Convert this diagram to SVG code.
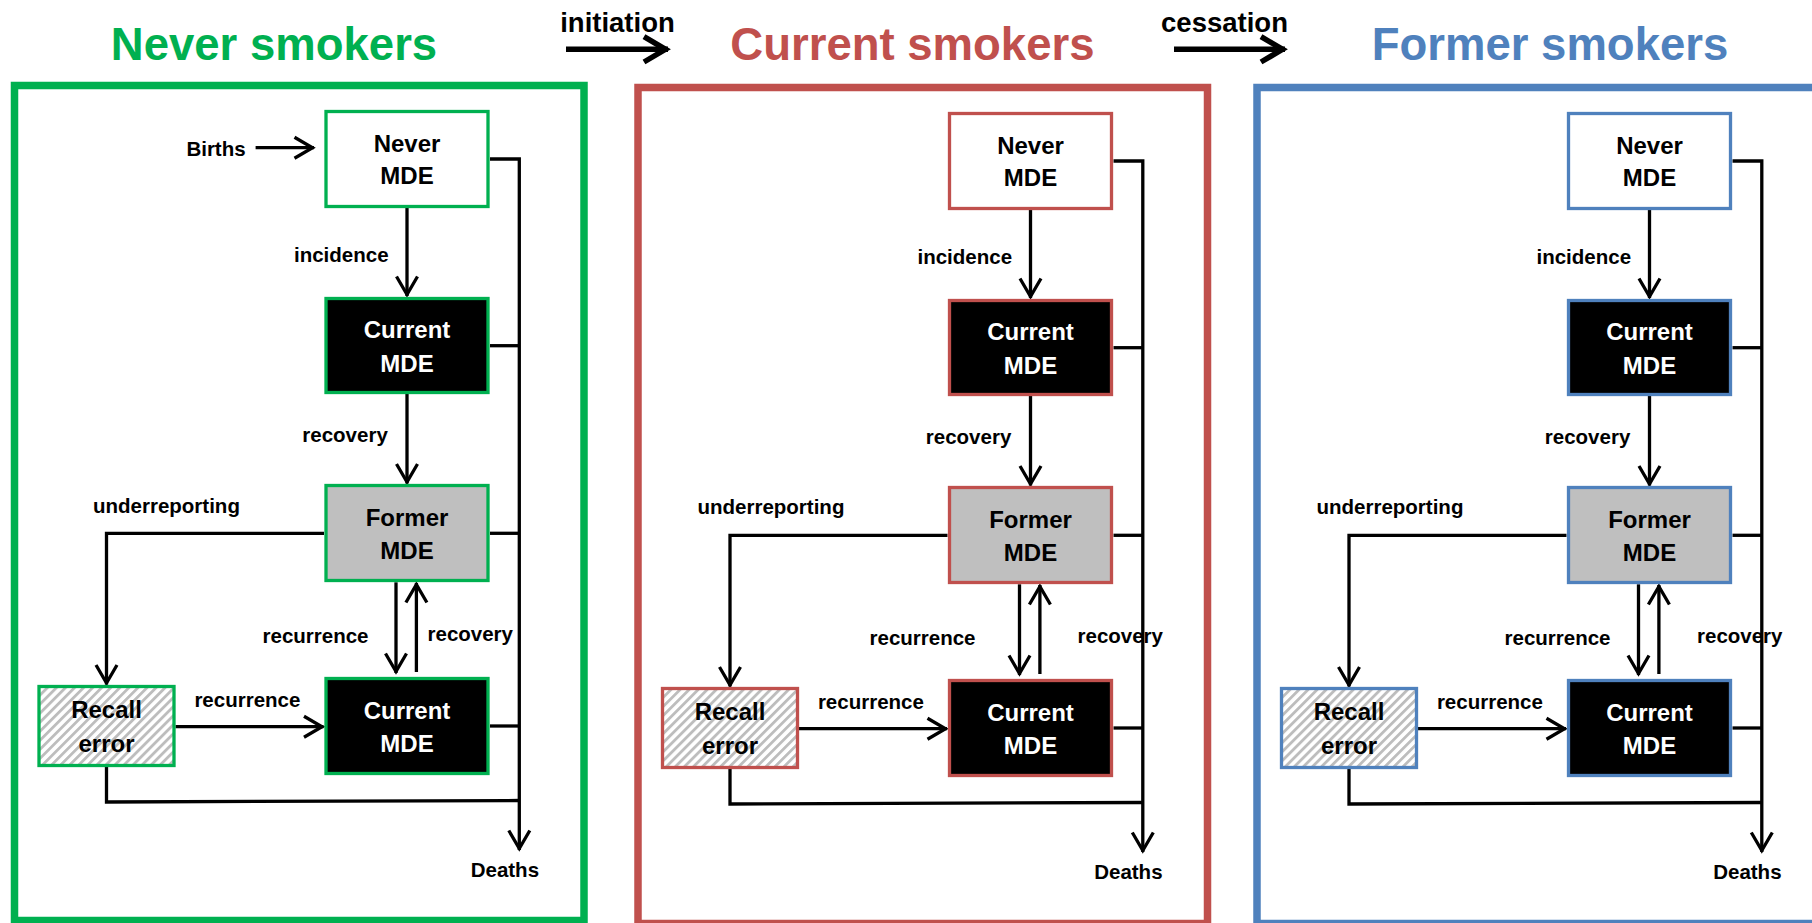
<svg xmlns="http://www.w3.org/2000/svg" width="1812" height="923" viewBox="0 0 1812 923">
  <defs>
    <style>
      text { font-family: "Liberation Sans", Arial, sans-serif; font-weight: bold; }
      .title { font-size: 45.5px; }
      .flow { font-size: 27.5px; fill: #000; }
      .lbl { font-size: 20.5px; fill: #000; }
      .nodetxt { font-size: 24px; text-anchor: middle; }
      .dark { fill: #fff; }
      .light { fill: #000; }
      .frame { fill: #fff; stroke: currentColor; stroke-width: 7.5; }
      .node rect { stroke: currentColor; stroke-width: 3.3; }
      .n-never rect { fill: #fff; }
      .n-current rect { fill: #000; }
      .n-former rect { fill: #bfbfbf; }
      .n-recall rect { fill: url(#hatch); }
      .connectors path { fill: none; stroke: #000; stroke-width: 3.3; }
      .arrow { marker-end: url(#head); }
      .big { fill: none; stroke: #000; stroke-width: 5.5; marker-end: url(#bighead); }
    </style>
    <pattern id="hatch" patternUnits="userSpaceOnUse" width="6.4" height="6.4" patternTransform="rotate(45)">
      <rect width="6.4" height="6.4" fill="#fff"/>
      <rect width="2.8" height="6.4" fill="#bdbdbd"/>
    </pattern>
    <marker id="head" markerUnits="userSpaceOnUse" markerWidth="30" markerHeight="30" viewBox="-25 -15 30 30" refX="0" refY="0" orient="auto" overflow="visible">
      <path d="M-19.5,-10.5 L-1.5,0 L-19.5,10.5" fill="none" stroke="#000" stroke-width="3.3"/>
    </marker>
    <marker id="bighead" markerUnits="userSpaceOnUse" markerWidth="40" markerHeight="40" viewBox="-30 -20 40 40" refX="0" refY="0" orient="auto" overflow="visible">
      <path d="M-24,-12.7 L-2.5,0 L-24,12.7" fill="none" stroke="#000" stroke-width="5.5"/>
    </marker>
  </defs>

  <!-- headings and transitions between smoking states -->
  <g id="headings">
    <text class="title" x="274" y="60" text-anchor="middle" fill="#00b050">Never smokers</text>
    <text class="title" x="912.4" y="60" text-anchor="middle" fill="#c0504d">Current smokers</text>
    <text class="title" x="1550" y="60" text-anchor="middle" fill="#4f81bd">Former smokers</text>
  </g>
  <g id="transitions">
    <text class="flow" x="617.5" y="31.5" text-anchor="middle">initiation</text>
    <path class="big" d="M566,49.3 H668"/>
    <text class="flow" x="1224.5" y="31.5" text-anchor="middle">cessation</text>
    <path class="big" d="M1174,49.3 H1285"/>
  </g>

  <!-- ===== Never smokers ===== -->
  <g id="panel-never" color="#00b050">
    <rect class="frame" x="14.5" y="85.5" width="569.5" height="835"/>
    <g id="never-connectors" class="connectors">
      <path class="arrow" d="M255.6,147.7 H314"/>
      <path class="arrow" d="M407,208 V296"/>
      <path class="arrow" d="M407,394 V483.5"/>
      <path class="arrow" d="M324,533.3 H106.5 V684.5"/>
      <path class="arrow" d="M175.5,726.7 H323.5"/>
      <path class="arrow" d="M396,582.3 V673"/>
      <path class="arrow" d="M416.4,672 V583"/>
      <path class="arrow" d="M490,159 H519.3 V850"/>
      <path d="M490,345.7 H519.3"/>
      <path d="M490,533.3 H519.3"/>
      <path d="M490,726 H519.3"/>
      <path d="M106.5,767 V802 L519.3,800.5"/>
    </g>
    <g id="never-never-mde" class="node n-never">
      <rect x="326" y="111.5" width="162" height="95"/>
      <text class="nodetxt light" x="407" y="151.7">Never</text>
      <text class="nodetxt light" x="407" y="184">MDE</text>
    </g>
    <g id="never-current-mde" class="node n-current">
      <rect x="326" y="298.5" width="162" height="94"/>
      <text class="nodetxt dark" x="407" y="338.3">Current</text>
      <text class="nodetxt dark" x="407" y="371.7">MDE</text>
    </g>
    <g id="never-former-mde" class="node n-former">
      <rect x="326" y="485.5" width="162" height="95"/>
      <text class="nodetxt light" x="407" y="526">Former</text>
      <text class="nodetxt light" x="407" y="559.3">MDE</text>
    </g>
    <g id="never-current-mde-2" class="node n-current">
      <rect x="326" y="678.5" width="162" height="95"/>
      <text class="nodetxt dark" x="407" y="719">Current</text>
      <text class="nodetxt dark" x="407" y="751.7">MDE</text>
    </g>
    <g id="never-recall-error" class="node n-recall">
      <rect x="39" y="686.5" width="135" height="79"/>
      <text class="nodetxt light" x="106.5" y="717.7">Recall</text>
      <text class="nodetxt light" x="106.5" y="751.7">error</text>
    </g>
    <g id="never-labels">
      <text class="lbl" x="186.4" y="156">Births</text>
      <text class="lbl" x="294" y="261.7">incidence</text>
      <text class="lbl" x="302.3" y="441.7">recovery</text>
      <text class="lbl" x="93" y="513" font-size="21">underreporting</text>
      <text class="lbl" x="262.5" y="642.7">recurrence</text>
      <text class="lbl" x="427.5" y="641">recovery</text>
      <text class="lbl" x="194.4" y="707.3">recurrence</text>
      <text class="lbl" x="470.7" y="877.3">Deaths</text>
    </g>
  </g>

  <!-- ===== Current smokers ===== -->
  <g id="panel-current" color="#c0504d" transform="translate(623.5,2)">
    <rect class="frame" x="14.5" y="85.5" width="569.5" height="836"/>
    <g id="current-connectors" class="connectors">
      <path class="arrow" d="M407,208 V296"/>
      <path class="arrow" d="M407,394 V483.5"/>
      <path class="arrow" d="M324,533.3 H106.5 V684.5"/>
      <path class="arrow" d="M175.5,726.7 H323.5"/>
      <path class="arrow" d="M396,582.3 V673"/>
      <path class="arrow" d="M416.4,672 V583"/>
      <path class="arrow" d="M490,159 H519.3 V850"/>
      <path d="M490,345.7 H519.3"/>
      <path d="M490,533.3 H519.3"/>
      <path d="M490,726 H519.3"/>
      <path d="M106.5,767 V802 L519.3,800.5"/>
    </g>
    <g id="current-never-mde" class="node n-never">
      <rect x="326" y="111.5" width="162" height="95"/>
      <text class="nodetxt light" x="407" y="151.7">Never</text>
      <text class="nodetxt light" x="407" y="184">MDE</text>
    </g>
    <g id="current-current-mde" class="node n-current">
      <rect x="326" y="298.5" width="162" height="94"/>
      <text class="nodetxt dark" x="407" y="338.3">Current</text>
      <text class="nodetxt dark" x="407" y="371.7">MDE</text>
    </g>
    <g id="current-former-mde" class="node n-former">
      <rect x="326" y="485.5" width="162" height="95"/>
      <text class="nodetxt light" x="407" y="526">Former</text>
      <text class="nodetxt light" x="407" y="559.3">MDE</text>
    </g>
    <g id="current-current-mde-2" class="node n-current">
      <rect x="326" y="678.5" width="162" height="95"/>
      <text class="nodetxt dark" x="407" y="719">Current</text>
      <text class="nodetxt dark" x="407" y="751.7">MDE</text>
    </g>
    <g id="current-recall-error" class="node n-recall">
      <rect x="39" y="686.5" width="135" height="79"/>
      <text class="nodetxt light" x="106.5" y="717.7">Recall</text>
      <text class="nodetxt light" x="106.5" y="751.7">error</text>
    </g>
    <g id="current-labels">
      <text class="lbl" x="294" y="261.7">incidence</text>
      <text class="lbl" x="302.3" y="441.7">recovery</text>
      <text class="lbl" x="74" y="512" font-size="21">underreporting</text>
      <text class="lbl" x="246" y="642.7">recurrence</text>
      <text class="lbl" x="454" y="641">recovery</text>
      <text class="lbl" x="194.4" y="707.3">recurrence</text>
      <text class="lbl" x="470.7" y="877.3">Deaths</text>
    </g>
  </g>

  <!-- ===== Former smokers ===== -->
  <g id="panel-former" color="#4f81bd" transform="translate(1242.5,2)">
    <rect class="frame" x="14.5" y="85.5" width="569.5" height="836"/>
    <g id="former-connectors" class="connectors">
      <path class="arrow" d="M407,208 V296"/>
      <path class="arrow" d="M407,394 V483.5"/>
      <path class="arrow" d="M324,533.3 H106.5 V684.5"/>
      <path class="arrow" d="M175.5,726.7 H323.5"/>
      <path class="arrow" d="M396,582.3 V673"/>
      <path class="arrow" d="M416.4,672 V583"/>
      <path class="arrow" d="M490,159 H519.3 V850"/>
      <path d="M490,345.7 H519.3"/>
      <path d="M490,533.3 H519.3"/>
      <path d="M490,726 H519.3"/>
      <path d="M106.5,767 V802 L519.3,800.5"/>
    </g>
    <g id="former-never-mde" class="node n-never">
      <rect x="326" y="111.5" width="162" height="95"/>
      <text class="nodetxt light" x="407" y="151.7">Never</text>
      <text class="nodetxt light" x="407" y="184">MDE</text>
    </g>
    <g id="former-current-mde" class="node n-current">
      <rect x="326" y="298.5" width="162" height="94"/>
      <text class="nodetxt dark" x="407" y="338.3">Current</text>
      <text class="nodetxt dark" x="407" y="371.7">MDE</text>
    </g>
    <g id="former-former-mde" class="node n-former">
      <rect x="326" y="485.5" width="162" height="95"/>
      <text class="nodetxt light" x="407" y="526">Former</text>
      <text class="nodetxt light" x="407" y="559.3">MDE</text>
    </g>
    <g id="former-current-mde-2" class="node n-current">
      <rect x="326" y="678.5" width="162" height="95"/>
      <text class="nodetxt dark" x="407" y="719">Current</text>
      <text class="nodetxt dark" x="407" y="751.7">MDE</text>
    </g>
    <g id="former-recall-error" class="node n-recall">
      <rect x="39" y="686.5" width="135" height="79"/>
      <text class="nodetxt light" x="106.5" y="717.7">Recall</text>
      <text class="nodetxt light" x="106.5" y="751.7">error</text>
    </g>
    <g id="former-labels">
      <text class="lbl" x="294" y="261.7">incidence</text>
      <text class="lbl" x="302.3" y="441.7">recovery</text>
      <text class="lbl" x="74" y="512" font-size="21">underreporting</text>
      <text class="lbl" x="262" y="642.7">recurrence</text>
      <text class="lbl" x="454.5" y="641">recovery</text>
      <text class="lbl" x="194.4" y="707.3">recurrence</text>
      <text class="lbl" x="470.7" y="877.3">Deaths</text>
    </g>
  </g>
</svg>
